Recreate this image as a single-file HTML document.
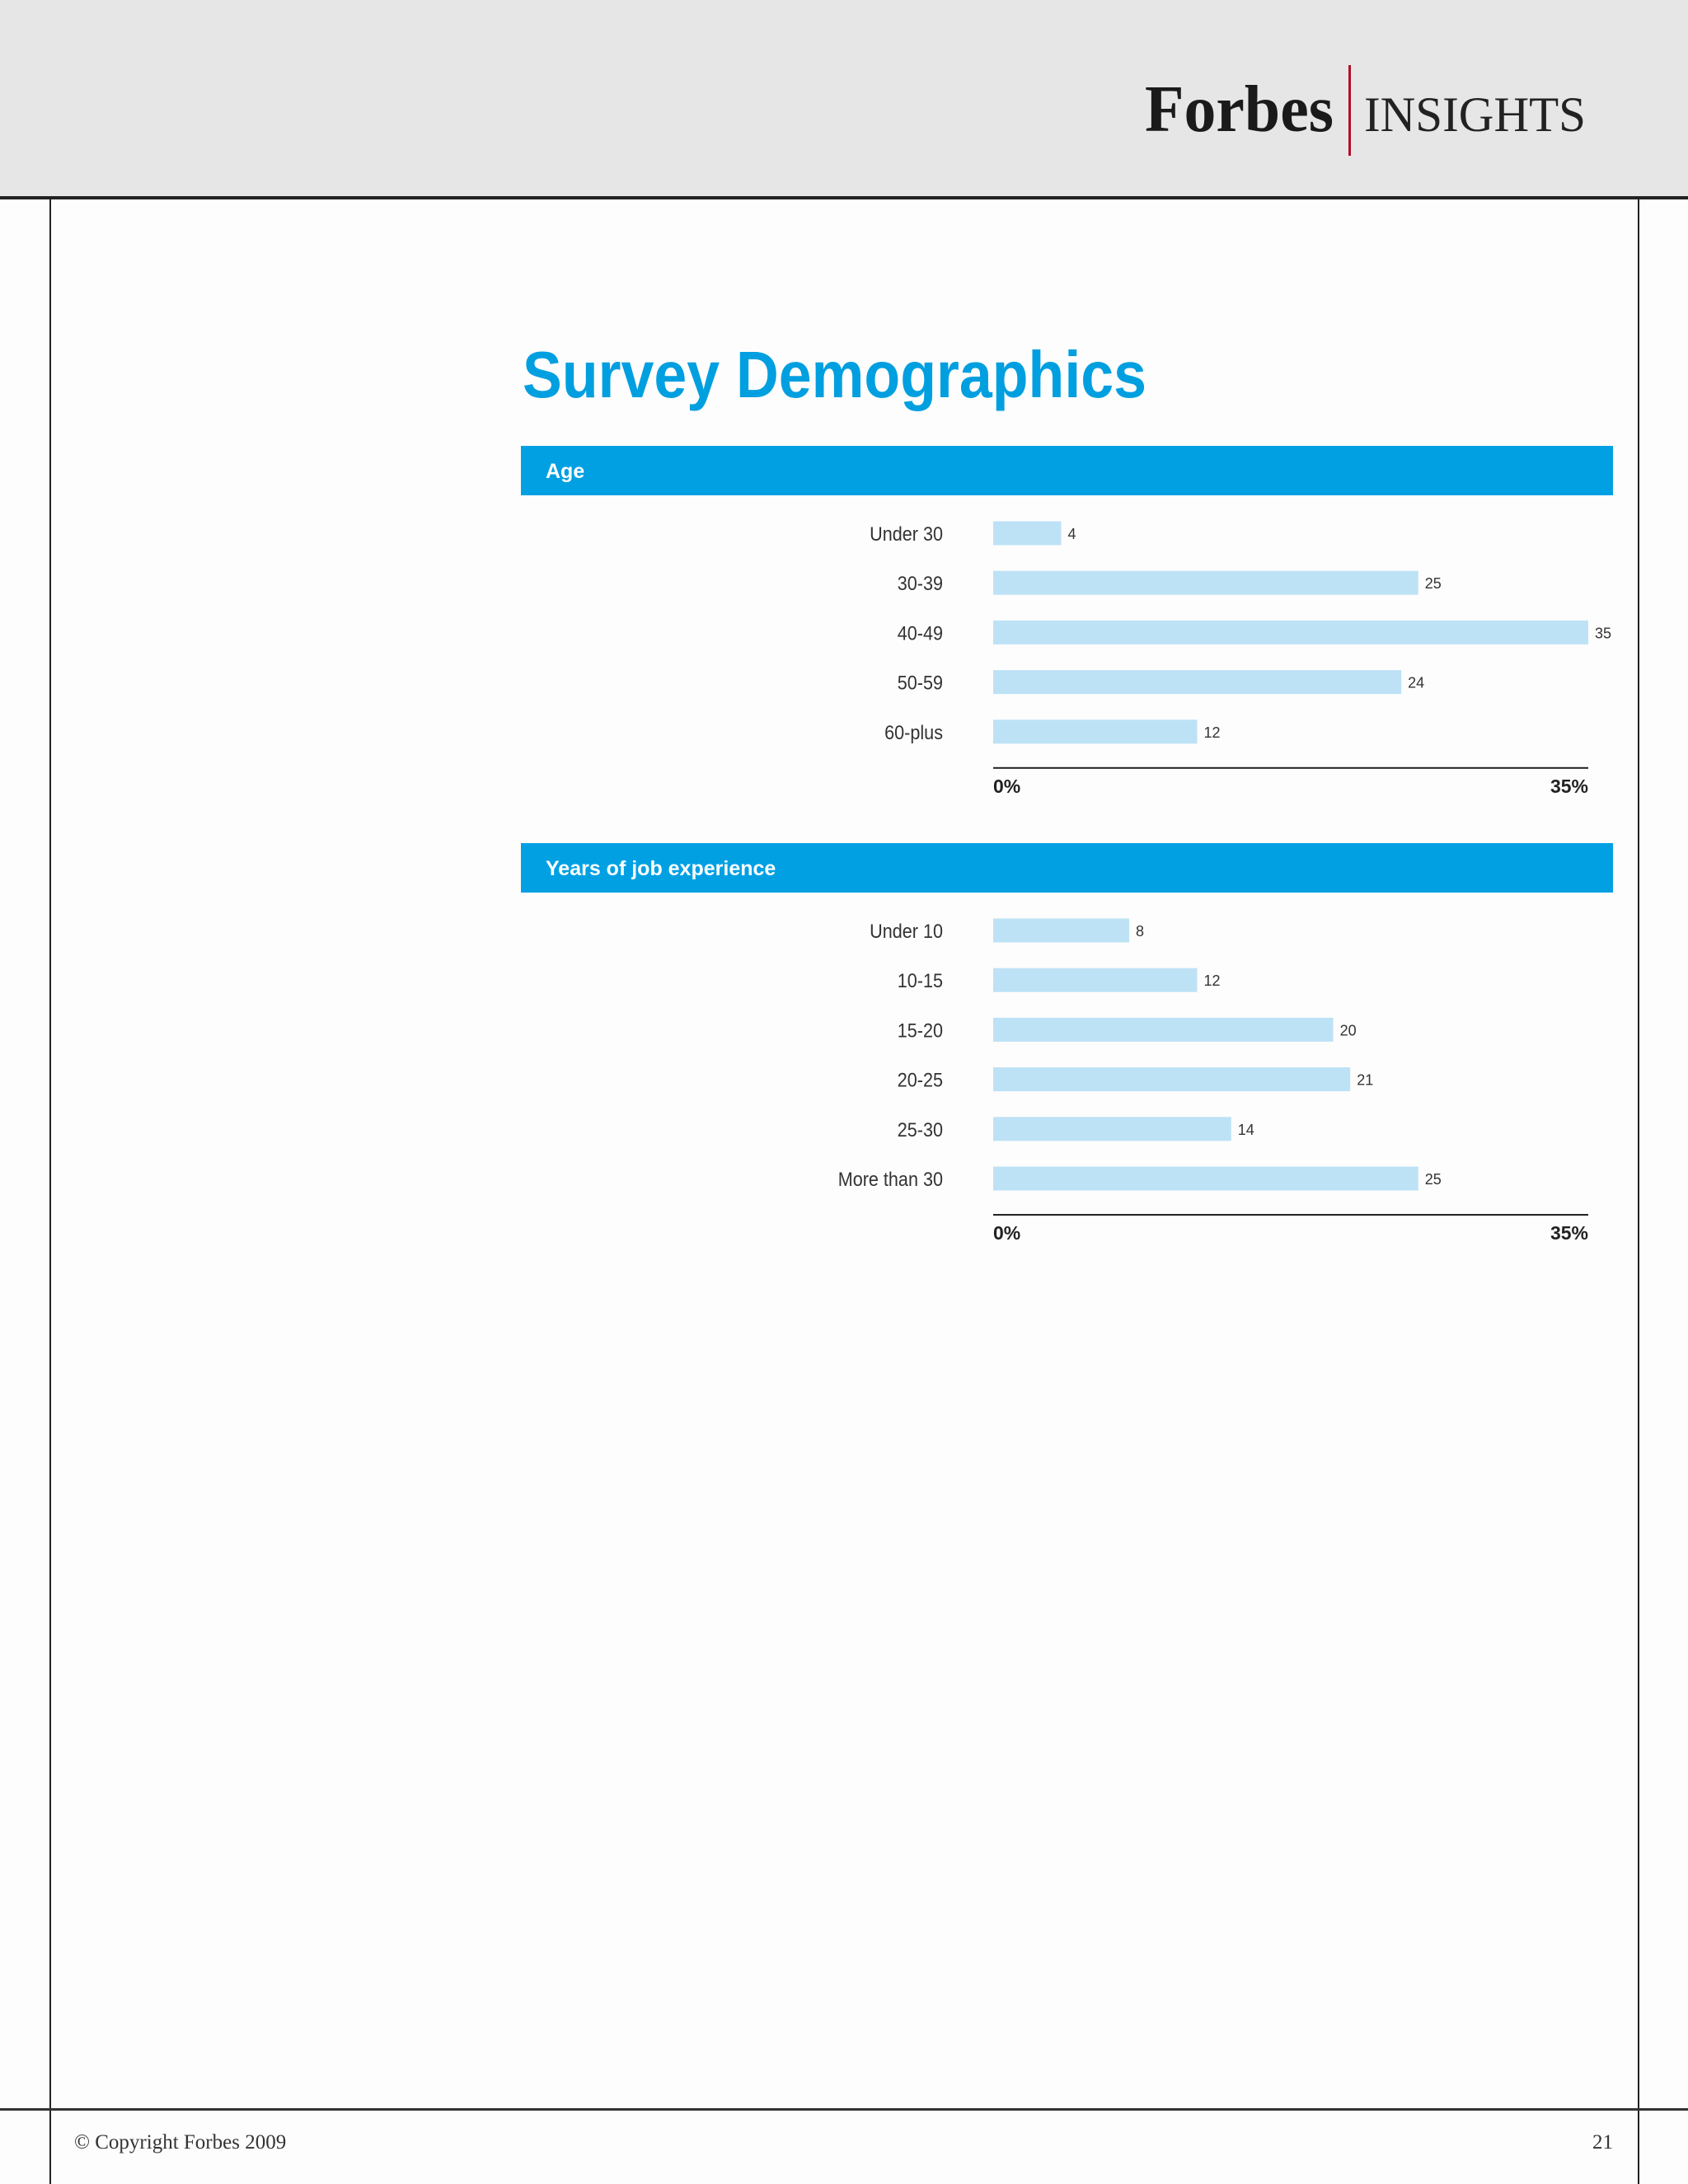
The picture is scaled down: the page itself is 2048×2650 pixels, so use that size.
<!DOCTYPE html>
<html><head><meta charset="utf-8"><style>
html,body{margin:0;padding:0;background:#fdfdfd;}
svg{display:block;}
</style></head><body>
<svg id="page" width="2048" height="2650" viewBox="0 0 2048 2650" style="font-family:'Liberation Sans',sans-serif">
<rect x="0" y="0" width="2048" height="2650" fill="#fdfdfd"/>
<rect x="0" y="0" width="2048" height="240" fill="#e6e6e7"/>
<rect x="0" y="238" width="2048" height="4" fill="#222"/>
<rect x="60" y="240" width="2" height="2410" fill="#222"/>
<rect x="1987" y="240" width="2" height="2410" fill="#222"/>
<rect x="0" y="2558" width="2048" height="3" fill="#333"/>
<g>
<text x="1389" y="159" style="font-family:'Liberation Serif',serif;font-weight:bold;font-size:80px" fill="#1a1a1a" textLength="229" lengthAdjust="spacingAndGlyphs">Forbes</text>
<rect x="1636" y="79" width="3" height="110" fill="#b0102a"/>
<text x="1655" y="159" style="font-family:'Liberation Serif',serif;font-size:60px" fill="#222" textLength="269" lengthAdjust="spacingAndGlyphs">INSIGHTS</text>
</g>
<text x="634" y="482" font-weight="bold" font-size="80" fill="#009fe0" textLength="757" lengthAdjust="spacingAndGlyphs">Survey Demographics</text>
<g id="charts"></g>
<text x="90" y="2607" style="font-family:'Liberation Serif',serif;font-size:25px" fill="#333">© Copyright Forbes 2009</text>
<text x="1957" y="2607" style="font-family:'Liberation Serif',serif;font-size:25px" fill="#333" text-anchor="end">21</text>
</svg>
<script>
const ageCategories = ["Under 30","30-39","40-49","50-59","60-plus"];
const ageValues = [4,25,35,24,12];
const expCategories = ["Under 10","10-15","15-20","20-25","25-30","More than 30"];
const expValues = [8,12,20,21,14,25];
const axisMax = 35;
const axisTickLabels = ["0%","35%"];

const NS = "http://www.w3.org/2000/svg";
const root = document.getElementById('charts');
function mk(tag, attrs, parent){
  const e = document.createElementNS(NS, tag);
  for (const k in attrs) e.setAttribute(k, attrs[k]);
  parent.appendChild(e);
  return e;
}
const X0 = 1205, X1 = 1927;
function xScale(v){ return X0 + (X1 - X0) * v / axisMax; }

function drawChart(slug, title, bandTop, firstRowY, cats, vals){
  const g = mk('g', {}, root);
  
  
  const band = mk('rect', {x:632, y:bandTop, width:1325, height:60, fill:'#00a0e3'}, g);
  
  
  const bt = mk('text', {x:662, y:bandTop+39, 'font-size':25, 'font-weight':'bold', fill:'#fff'}, g);
  bt.textContent = title;
  
  
  const step = 60.2, bh = 29;
  cats.forEach((c, i) => {
    const cy = firstRowY + i * step;
    const lab = mk('text', {x:1144, y:cy+9, 'font-size':24, fill:'#333', 'text-anchor':'end', transform:'translate(1144 0) scale(0.9 1) translate(-1144 0)'}, g);
    lab.textContent = c;
    
    
    const bar = mk('rect', {x:X0, y:cy-bh/2, width:xScale(vals[i]) - X0, height:bh, fill:'#bde2f6'}, g);
    
    
    const vl = mk('text', {x:xScale(vals[i]) + 8, y:cy+7, 'font-size':18, fill:'#333'}, g);
    vl.textContent = vals[i];
    
    
  });
  const axisY = firstRowY + (cats.length - 1) * step + 44;
  const ax = mk('rect', {x:X0, y:axisY-1, width:X1-X0, height:2, fill:'#222'}, g);
  
  
  const t0 = mk('text', {x:X0, y:axisY+30, 'font-size':23, 'font-weight':'bold', fill:'#222'}, g);
  t0.textContent = axisTickLabels[0];
  
  
  const t1 = mk('text', {x:X1, y:axisY+30, 'font-size':23, 'font-weight':'bold', fill:'#222', 'text-anchor':'end'}, g);
  t1.textContent = axisTickLabels[1];
  
  
}
drawChart('age', 'Age', 541, 647, ageCategories, ageValues);
drawChart('experience', 'Years of job experience', 1023, 1129, expCategories, expValues);
</script>
</body></html>
